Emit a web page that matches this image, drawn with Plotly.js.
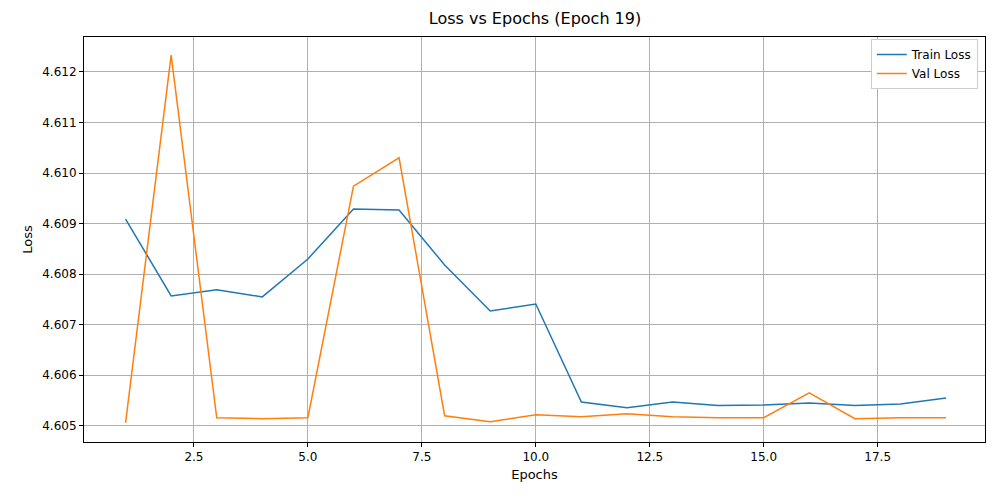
<!DOCTYPE html>
<html>
<head>
<script src="https://cdn.plot.ly/plotly-3.0.1.min.js"></script>
<style>body{margin:0}</style>
</head>
<body>
<div id="chart" style="width:1000px;height:500px"></div>
<script>
var epochs = [1,2,3,4,5,6,7,8,9,10,11,12,13,14,15,16,17,18,19];
var trainLoss = [4.60909,4.60757,4.60769,4.60755,4.60830,4.60929,4.60927,4.60818,4.60727,4.60741,
                 4.60547,4.60536,4.60547,4.60540,4.60541,4.60545,4.60540,4.60543,4.60555];
var valLoss = [4.60506,4.61233,4.60516,4.60514,4.60516,4.60974,4.61030,4.60520,4.60508,4.60522,
               4.60518,4.60524,4.60518,4.60516,4.60516,4.60565,4.60514,4.60516,4.60516];
var xTicks = [2.5,5,7.5,10,12.5,15,17.5];
var yTicks = [4.605,4.606,4.607,4.608,4.609,4.610,4.611,4.612];

var data = [
  {x: epochs, y: trainLoss, name: "Train Loss", mode: "lines", line: {color: "#1f77b4", width: 1.5}},
  {x: epochs, y: valLoss, name: "Val Loss", mode: "lines", line: {color: "#ff7f0e", width: 1.5}}
];

var axisStyle = {
  showline: true, mirror: true, linecolor: "black", linewidth: 1,
  ticks: "outside", ticklen: 4, tickcolor: "black",
  showgrid: true, gridcolor: "#b0b0b0", gridwidth: 1, zeroline: false,
  tickfont: {size: 12, color: "black"}
};

var layout = {
  width: 1000, height: 500,
  font: {family: "DejaVu Sans", color: "black"},
  paper_bgcolor: "white", plot_bgcolor: "white",
  margin: {l: 84, r: 15, t: 37, b: 58},
  title: {text: "Loss vs Epochs (Epoch 19)", x: 0.535, y: 0.975, yanchor: "top", font: {size: 16}},
  xaxis: Object.assign({}, axisStyle, {
    range: [0.088, 19.855], tickvals: xTicks, ticktext: xTicks.map(function(v){return v.toFixed(1);}),
    title: {text: "Epochs", font: {size: 13}, standoff: 6}
  }),
  yaxis: Object.assign({}, axisStyle, {
    range: [4.60468, 4.61269], tickvals: yTicks, ticktext: yTicks.map(function(v){return v.toFixed(3);}),
    title: {text: "Loss", font: {size: 13}, standoff: 6}
  }),
  showlegend: true,
  legend: {x: 0.992, y: 0.995, xanchor: "right", yanchor: "top",
           bordercolor: "#cccccc", borderwidth: 1, bgcolor: "white", font: {size: 12},
           tracegroupgap: 0}
};

Plotly.newPlot("chart", data, layout, {displayModeBar: false});
</script>
</body>
</html>
